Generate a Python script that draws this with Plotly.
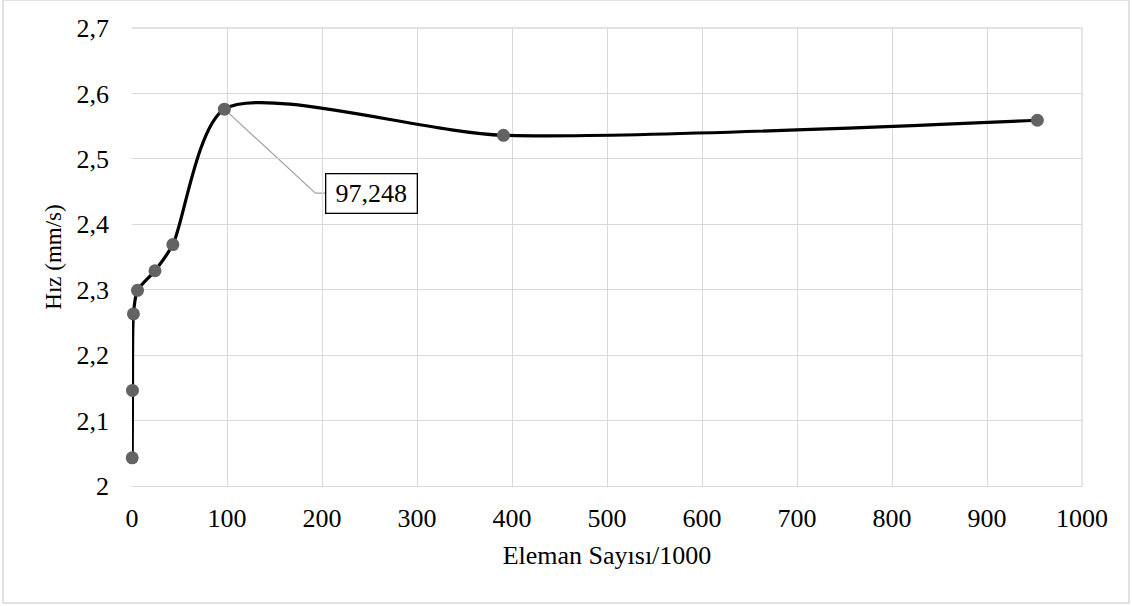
import plotly.graph_objects as go

# Mesh size (thousands of elements) vs. velocity
eleman_sayisi = [0.2, 0.5, 1.5, 5.8, 24.2, 43.0, 97.248, 391.0, 953.0]
hiz = [2.043, 2.146, 2.263, 2.299, 2.329, 2.369, 2.576, 2.536, 2.559]

etiket_x = 97.248
etiket_y = hiz[eleman_sayisi.index(etiket_x)]
etiket_metni = f"{etiket_x:.3f}".replace(".", ",")

x_ticks = list(range(0, 1001, 100))
y_ticks = [2.0, 2.1, 2.2, 2.3, 2.4, 2.5, 2.6, 2.7]
y_tick_text = ["2" if v == 2.0 else f"{v:.1f}".replace(".", ",") for v in y_ticks]

FONT = "Times New Roman, Liberation Serif, serif"
GRID = "#d9d9d9"

fig = go.Figure()
fig.add_trace(go.Scatter(
    x=eleman_sayisi, y=hiz,
    mode="lines+markers",
    line=dict(color="black", width=3.2, shape="spline", smoothing=0.72),
    marker=dict(color="#636363", size=13, line=dict(width=0)),
    cliponaxis=False,
    showlegend=False,
    hoverinfo="x+y",
))

# Leader line from the labelled point to its data label box
fig.add_shape(
    type="path",
    xref="x", yref="y",
    xsizemode="pixel", ysizemode="pixel",
    xanchor=etiket_x, yanchor=etiket_y,
    path="M0,0 L91,-84 L101,-84",
    line=dict(color="#a6a6a6", width=1.3),
    layer="below",
)
fig.add_annotation(
    x=etiket_x, y=etiket_y, xref="x", yref="y",
    text=etiket_metni, showarrow=False,
    xanchor="left", yanchor="middle",
    xshift=101, yshift=-84,
    width=84, height=32, align="center", valign="middle",
    font=dict(family=FONT, size=26, color="black"),
    bgcolor="white", bordercolor="black", borderwidth=1.3, borderpad=3,
)

# Outer chart border
fig.add_shape(
    type="rect", xref="paper", yref="paper",
    x0=-129 / 950, x1=997 / 950, y0=-117 / 458, y1=486 / 458,
    line=dict(color="#d9d9d9", width=1.5), layer="below",
)

fig.update_layout(
    width=1132, height=606,
    margin=dict(l=132, r=50, t=28, b=120, autoexpand=False),
    paper_bgcolor="white", plot_bgcolor="white",
    font=dict(family=FONT, size=26, color="black"),
    xaxis=dict(
        range=[0, 1000], tickvals=x_ticks,
        tickfont=dict(family=FONT, size=26),
        showgrid=True, gridcolor=GRID, gridwidth=1.3,
        zeroline=False, showline=True, linecolor=GRID, linewidth=1.3,
        mirror=False, ticks="", ticklabelstandoff=9,
        title=dict(text="Eleman Sayısı/1000", standoff=13,
                   font=dict(family=FONT, size=26)),
        automargin=False, fixedrange=True,
    ),
    yaxis=dict(
        range=[2.0, 2.7], tickvals=y_ticks, ticktext=y_tick_text,
        tickfont=dict(family=FONT, size=26),
        showgrid=True, gridcolor=GRID, gridwidth=1.3,
        zeroline=False, showline=False, ticks="", ticklabelstandoff=22,
        title=dict(text="Hız (mm/s)", standoff=8,
                   font=dict(family=FONT, size=23)),
        automargin=False, fixedrange=True,
    ),
)

# Top and right grid borders of the plot area
fig.add_shape(type="line", xref="paper", yref="paper", x0=0, x1=1, y0=1, y1=1,
              line=dict(color=GRID, width=1.3), layer="below")
fig.add_shape(type="line", xref="paper", yref="paper", x0=1, x1=1, y0=0, y1=1,
              line=dict(color=GRID, width=1.3), layer="below")

fig.write_html("out.html")
